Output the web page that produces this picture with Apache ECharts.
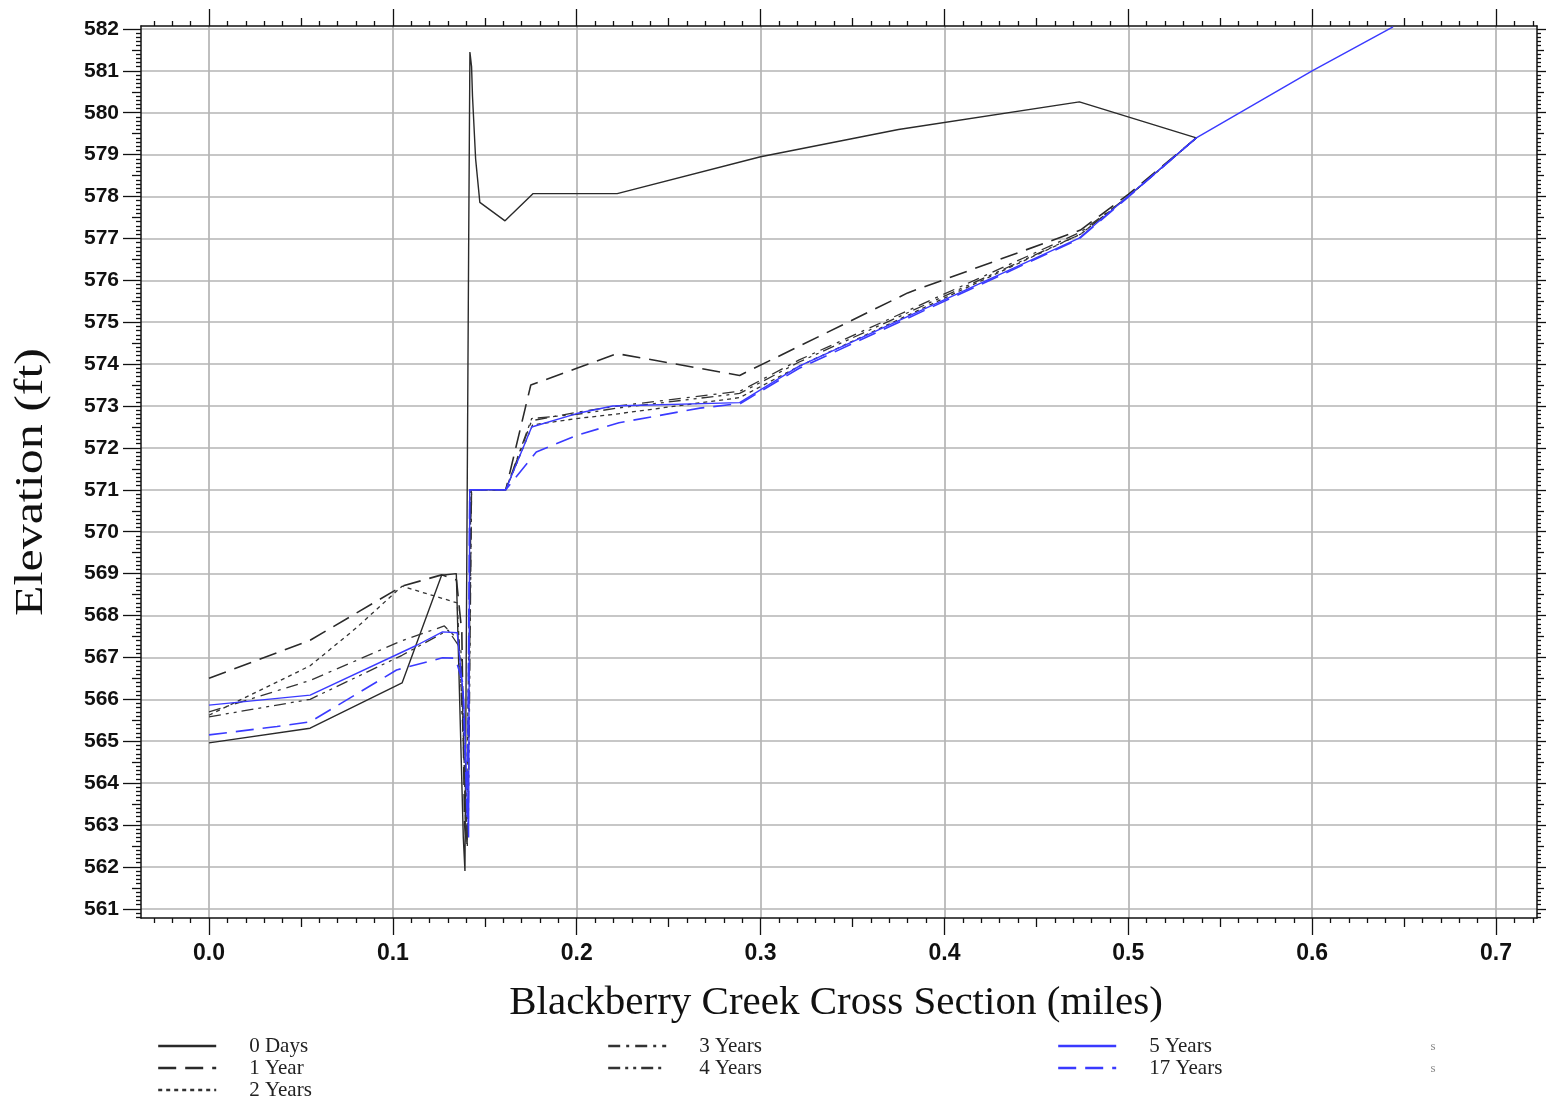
<!DOCTYPE html>
<html><head><meta charset="utf-8">
<script src="https://cdn.jsdelivr.net/npm/echarts@6/dist/echarts.min.js"></script>
<style>html,body{margin:0;padding:0;background:#fff}#c{width:1548px;height:1101px}</style>
</head><body><div id="c"></div>
<script>
// ---------- DATA ----------
const seriesNames = ['0 Days', '1 Year', '2 Years', '3 Years', '4 Years', '5 Years', '17 Years'];

const days0X = [0, 0.055, 0.105, 0.1265, 0.1345, 0.1383, 0.1392, 0.1412, 0.1419, 0.1428, 0.1433, 0.1450, 0.1473, 0.161, 0.1763, 0.222, 0.30, 0.375, 0.4734, 0.537];
const days0Y = [564.96, 565.31, 566.39, 568.96, 569.0, 562.7, 561.9, 576.7, 581.45, 581.1, 580.4, 578.9, 577.86, 577.42, 578.07, 578.07, 578.95, 579.6, 580.26, 579.4];

const year1X = [0, 0.055, 0.105, 0.1265, 0.1346, 0.1375, 0.139, 0.1403, 0.1425, 0.1614, 0.1750, 0.2, 0.222, 0.2886, 0.38, 0.474, 0.5, 0.537];
const year1Y = [566.5, 567.41, 568.7, 568.97, 568.85, 567.6, 563.0, 562.5, 571.0, 571.0, 573.5, 573.9, 574.25, 573.73, 575.7, 577.2, 578.05, 579.4];

const years2X = [0, 0.055, 0.08, 0.105, 0.135, 0.1385, 0.1398, 0.1425, 0.1614, 0.176, 0.2, 0.22, 0.2886, 0.321, 0.474, 0.5, 0.537];
const years2Y = [565.62, 566.8, 567.7, 568.7, 568.3, 565.0, 562.6, 571.0, 571.0, 572.55, 572.7, 572.8, 573.2, 573.95, 577.1, 578.0, 579.4];

const years3X = [0, 0.055, 0.105, 0.128, 0.136, 0.1392, 0.1405, 0.1428, 0.1614, 0.1755, 0.2, 0.222, 0.2886, 0.321, 0.474, 0.5, 0.537];
const years3Y = [565.7, 566.45, 567.4, 567.75, 567.4, 564.0, 562.5, 571.0, 571.0, 572.65, 572.85, 573.0, 573.35, 574.1, 577.15, 578.0, 579.4];

const years4X = [0, 0.055, 0.105, 0.13, 0.137, 0.1395, 0.141, 0.1428, 0.1614, 0.1755, 0.2, 0.222, 0.2886, 0.321, 0.474, 0.5, 0.537];
const years4Y = [565.58, 566.0, 567.05, 567.65, 567.2, 563.5, 562.8, 571.0, 571.0, 572.7, 572.8, 572.95, 573.3, 574.05, 577.1, 578.0, 579.4];

const years5X = [0, 0.055, 0.113, 0.127, 0.135, 0.1385, 0.1412, 0.1418, 0.1614, 0.1755, 0.2, 0.2196, 0.2886, 0.321, 0.473, 0.499, 0.537, 0.6, 0.644];
const years5Y = [565.86, 566.1, 567.29, 567.61, 567.59, 566.0, 562.7, 571.0, 571.0, 572.5, 572.82, 573.0, 573.08, 573.95, 577.0, 577.97, 579.4, 581.0, 582.05];

const years17X = [0, 0.037, 0.055, 0.102, 0.127, 0.134, 0.138, 0.1405, 0.1418, 0.1614, 0.178, 0.2, 0.223, 0.267, 0.289, 0.321, 0.473, 0.499, 0.537];
const years17Y = [565.15, 565.35, 565.46, 566.7, 566.99, 566.98, 566.4, 563.1, 571.0, 571.0, 571.9, 572.3, 572.6, 572.95, 573.06, 573.9, 576.98, 577.95, 579.4];

const xTickValues = [0, 0.1, 0.2, 0.3, 0.4, 0.5, 0.6, 0.7];
const xTickLabels = ['0.0', '0.1', '0.2', '0.3', '0.4', '0.5', '0.6', '0.7'];
const yTickValues = [561, 562, 563, 564, 565, 566, 567, 568, 569, 570, 571, 572, 573, 574, 575, 576, 577, 578, 579, 580, 581, 582];
const yTickLabels = ['561', '562', '563', '564', '565', '566', '567', '568', '569', '570', '571', '572', '573', '574', '575', '576', '577', '578', '579', '580', '581', '582'];

const xTitle = 'Blackberry Creek Cross Section (miles)';
const yTitle = 'Elevation (ft)';

// ---------- LAYOUT / STYLE ----------
const X_MIN = -0.037, X_MAX = 0.7223, Y_MIN = 560.78, Y_MAX = 582.07;

function r(v) { return Math.round(v * 1000) / 1000; }
const xMed = [], xMinor = [];
for (let i = -3; i <= 72; i++) {
  const v = r(i / 100);
  if (i % 10 === 0) continue;
  if (i % 5 === 0) xMed.push(v); else xMinor.push(v);
}
const yMed = [], yMinor = [];
for (let i = 5608; i <= 5820; i++) {
  const v = r(i / 10);
  if (i % 10 === 0) continue;
  if (i % 5 === 0) yMed.push(v); else yMinor.push(v);
}

const tickColor = '#111';
function xAx(pos, values, len, main) {
  return {
    type: 'value', gridIndex: 0, position: pos, min: X_MIN, max: X_MAX,
    minInterval: 0.1, maxInterval: 0.1,
    axisLine: { show: !!main, onZero: false, lineStyle: { color: '#111', width: 1.5 } },
    axisTick: { show: true, inside: false, length: len, customValues: values, lineStyle: { color: tickColor, width: 1.3 } },
    axisLabel: (main && pos === 'bottom') ? {
      show: true, customValues: xTickValues, margin: 24,
      formatter: v => { const k = xTickValues.findIndex(t => Math.abs(t - v) < 1e-6); return k >= 0 ? xTickLabels[k] : ''; },
      fontFamily: '"Liberation Sans", Arial, sans-serif', fontWeight: 'bold', fontSize: 23, color: '#111'
    } : { show: false },
    splitLine: (main && pos === 'bottom') ? { show: true, lineStyle: { color: '#b4b4b4', width: 1.7 } } : { show: false }
  };
}
function yAx(pos, values, len, main) {
  return {
    type: 'value', gridIndex: 0, position: pos, min: Y_MIN, max: Y_MAX,
    minInterval: 1, maxInterval: 1,
    axisLine: { show: !!main, onZero: false, lineStyle: { color: '#111', width: 1.5 } },
    axisTick: { show: true, inside: false, length: len, customValues: values, lineStyle: { color: tickColor, width: 1.3 } },
    axisLabel: (main && pos === 'left') ? {
      show: true, customValues: yTickValues, margin: 22,
      formatter: v => { const k = yTickValues.findIndex(t => Math.abs(t - v) < 1e-6); return k >= 0 ? yTickLabels[k] : ''; },
      fontFamily: '"Liberation Sans", Arial, sans-serif', fontWeight: 'bold', fontSize: 21, color: '#111'
    } : { show: false },
    splitLine: (main && pos === 'left') ? { show: true, lineStyle: { color: '#b4b4b4', width: 1.7 } } : { show: false }
  };
}

const xAxes = [
  xAx('bottom', xTickValues, 17, true), xAx('bottom', xMed, 9, false), xAx('bottom', xMinor, 5, false),
  xAx('top', xTickValues, 17, true), xAx('top', xMed, 8, false), xAx('top', xMinor, 5, false)
];
const yAxes = [
  yAx('left', yTickValues, 18, true), yAx('left', yMed, 9, false), yAx('left', yMinor, 5, false),
  yAx('right', yTickValues, 9, true), yAx('right', yMed, 7, false), yAx('right', yMinor, 4, false)
];

function pairs(xs, ys) { return xs.map((x, i) => [x, ys[i]]); }
const black = '#2a2a2a', blue = '#3a3aff';
const styles = [
  { color: black, width: 1.4, type: 'solid' },
  { color: black, width: 1.6, type: [18, 9] },
  { color: '#333', width: 1.3, type: [4, 4] },
  { color: '#333', width: 1.3, type: [12, 6, 3, 6] },
  { color: '#333', width: 1.3, type: [12, 5, 3, 5, 3, 5] },
  { color: blue, width: 1.4, type: 'solid' },
  { color: blue, width: 1.6, type: [18, 9] }
];
const dataSets = [pairs(days0X, days0Y), pairs(year1X, year1Y), pairs(years2X, years2Y), pairs(years3X, years3Y),
  pairs(years4X, years4Y), pairs(years5X, years5Y), pairs(years17X, years17Y)];

const series = seriesNames.map((n, i) => ({
  name: n, type: 'line', xAxisIndex: 0, yAxisIndex: 0, data: dataSets[i],
  showSymbol: false, symbol: 'none', clip: true, silent: true,
  lineStyle: styles[i], itemStyle: { color: styles[i].color }, z: 3
}));

const legendBase = {
  orient: 'vertical', itemWidth: 58, itemHeight: 14, itemGap: 0, padding: 0, selectedMode: false,
  height: 70,
  lineStyle: { width: 2.4 },
  itemStyle: { color: 'rgba(0,0,0,0)', borderWidth: 0, opacity: 0 },
  textStyle: { fontFamily: '"Liberation Serif", "Times New Roman", serif', fontSize: 21, lineHeight: 22, color: '#222', padding: [0, 0, 0, 28] }
};
const legends = [
  Object.assign({}, legendBase, { left: 157, top: 1035, data: ['0 Days', '1 Year', '2 Years'] }),
  Object.assign({}, legendBase, { left: 607, top: 1035, data: ['3 Years', '4 Years'] }),
  Object.assign({}, legendBase, { left: 1057, top: 1035, data: ['5 Years', '17 Years'] })
];

const chart = echarts.init(document.getElementById('c'), null, { renderer: 'canvas' });
chart.setOption({
  animation: false,
  backgroundColor: '#fff',
  grid: { left: 141, top: 26, width: 1396, height: 892, containLabel: false },
  xAxis: xAxes,
  yAxis: yAxes,
  legend: legends,
  series: series,
  graphic: [
    { type: 'text', x: 836, y: 1003, style: { text: xTitle, font: '41px "Liberation Serif", "Times New Roman", serif', fill: '#111', align: 'center', verticalAlign: 'middle' } },
    { type: 'text', x: 31, y: 482, rotation: Math.PI / 2, scaleX: 1.25, style: { text: yTitle, font: '40px "Liberation Serif", "Times New Roman", serif', fill: '#111', align: 'center', verticalAlign: 'middle' } },
    { type: 'text', x: 1433, y: 1047, style: { text: 's', font: '13px "Liberation Serif", serif', fill: '#888', align: 'center', verticalAlign: 'middle' } },
    { type: 'text', x: 1433, y: 1069, style: { text: 's', font: '13px "Liberation Serif", serif', fill: '#888', align: 'center', verticalAlign: 'middle' } }
  ]
});
</script></body></html>
